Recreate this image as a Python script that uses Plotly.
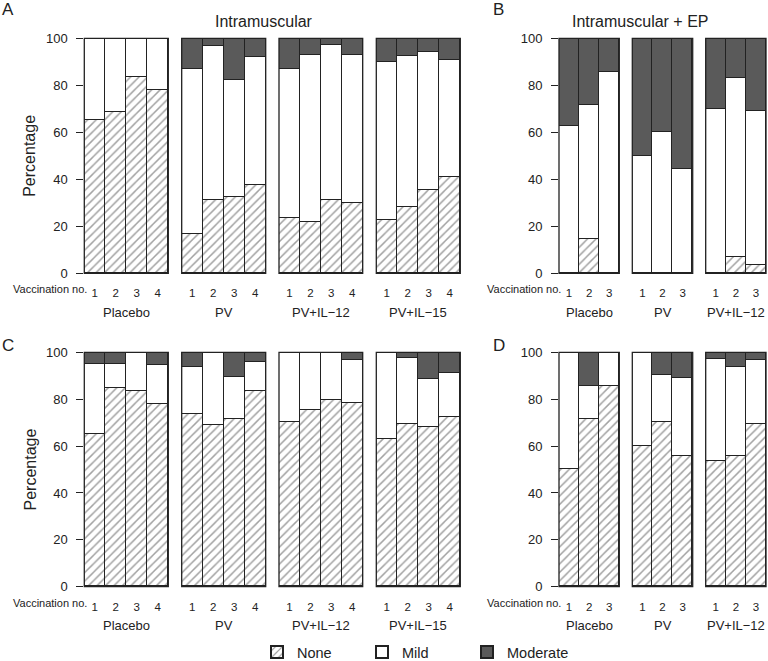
import plotly.graph_objects as go

# ---------------- data ----------------
groups_4 = ["Placebo", "PV", "PV+IL\u221212", "PV+IL\u221215"]
groups_3 = ["Placebo", "PV", "PV+IL\u221212"]
vacc_4 = ["1", "2", "3", "4"]
vacc_3 = ["1", "2", "3"]

# Panel A: Intramuscular (first severity grading)
a_none = [[65.2, 68.5, 83.4, 78.0], [16.6, 31.1, 32.2, 37.6], [23.4, 21.7, 31.2, 29.9], [22.7, 28.3, 35.4, 40.8]]
a_mild = [[34.8, 31.5, 16.6, 22.0], [70.2, 65.5, 50.1, 54.2], [63.4, 71.2, 65.7, 62.9], [67.3, 63.9, 58.8, 50.0]]
a_mod = [[0, 0, 0, 0], [13.2, 3.4, 17.7, 8.2], [13.2, 7.1, 3.1, 7.2], [10.0, 7.8, 5.8, 9.2]]

# Panel B: Intramuscular + EP
b_none = [[0, 14.3, 0], [0, 0, 0], [0, 6.9, 3.5]]
b_mild = [[62.5, 57.1, 85.7], [50.0, 60.0, 44.4], [70.0, 75.9, 65.5]]
b_mod = [[37.5, 28.6, 14.3], [50.0, 40.0, 55.6], [30.0, 17.2, 31.0]]

# Panel C: Intramuscular (second grading)
c_none = [[65.0, 84.5, 83.5, 78.0], [73.5, 69.0, 71.5, 83.5], [70.3, 75.4, 79.6, 78.1], [62.9, 69.4, 68.0, 72.2]]
c_mild = [[30.0, 10.5, 16.5, 16.5], [20.0, 31.0, 18.0, 12.4], [29.7, 24.6, 20.4, 18.4], [37.1, 28.2, 20.5, 18.8]]
c_mod = [[5.0, 5.0, 0, 5.5], [6.5, 0, 10.5, 4.1], [0, 0, 0, 3.5], [0, 2.4, 11.5, 9.0]]

# Panel D: Intramuscular + EP (second grading)
d_none = [[50.0, 71.4, 85.7], [60.0, 70.0, 55.6], [53.5, 55.5, 69.3]]
d_mild = [[50.0, 14.3, 14.3], [40.0, 20.0, 33.3], [43.4, 38.0, 27.3]]
d_mod = [[0, 14.3, 0], [0, 10.0, 11.1], [3.1, 6.5, 3.4]]

severity = ["None", "Mild", "Moderate"]
panel_titles = ["Intramuscular", "Intramuscular + EP"]
panel_letters = ["A", "B", "C", "D"]

# ---------------- layout geometry (pixels) ----------------
W, H = 768, 661
left_boxes = [(84.3, 168.3), (181.7, 265.7), (279.0, 362.7), (376.3, 460.3)]
right_boxes = [(559.0, 619.3), (632.3, 692.7), (705.7, 766.0)]
top_rows = (38.3, 273.3)
bot_rows = (352.3, 586.7)

def xd(px):
    return px / W

def yd(py):
    return 1 - py / H

panels = [
    dict(none=a_none, mild=a_mild, mod=a_mod, groups=groups_4, vacc=vacc_4, boxes=left_boxes, rows=top_rows),
    dict(none=b_none, mild=b_mild, mod=b_mod, groups=groups_3, vacc=vacc_3, boxes=right_boxes, rows=top_rows),
    dict(none=c_none, mild=c_mild, mod=c_mod, groups=groups_4, vacc=vacc_4, boxes=left_boxes, rows=bot_rows),
    dict(none=d_none, mild=d_mild, mod=d_mod, groups=groups_3, vacc=vacc_3, boxes=right_boxes, rows=bot_rows),
]

FONT = "Liberation Sans, Arial, sans-serif"
INK = "#222222"
fig = go.Figure()
layout = dict(
    width=W, height=H, margin=dict(l=0, r=0, t=0, b=0, autoexpand=False),
    paper_bgcolor="white", plot_bgcolor="white",
    barmode="stack", bargap=0,
    font=dict(family=FONT, color=INK, size=12),
)
shapes = []
annotations = []

styles = {
    "None": dict(color="white", line=dict(color=INK, width=1),
                 pattern=dict(shape="/", fgcolor="#444444", bgcolor="white", size=6, solidity=0.25)),
    "Mild": dict(color="white", line=dict(color=INK, width=1)),
    "Moderate": dict(color="#5a5a5a", line=dict(color=INK, width=1)),
}

xi = 0
for pi, p in enumerate(panels):
    yname = "y" if pi == 0 else f"y{pi + 1}"
    ykey = "yaxis" if pi == 0 else f"yaxis{pi + 1}"
    first_x = None
    for gi, gname in enumerate(p["groups"]):
        xi += 1
        xname = "x" if xi == 1 else f"x{xi}"
        xkey = "xaxis" if xi == 1 else f"xaxis{xi}"
        if first_x is None:
            first_x = xname
        vals = {"None": p["none"][gi], "Mild": p["mild"][gi], "Moderate": p["mod"][gi]}
        for s in severity:
            fig.add_trace(go.Bar(
                x=p["vacc"], y=vals[s], name=s, xaxis=xname, yaxis=yname,
                marker=styles[s], showlegend=(xi == 1), legendgroup=s,
                hoverinfo="skip",
            ))
        b0, b1 = p["boxes"][gi]
        layout[xkey] = dict(
            domain=[xd(b0), xd(b1)], anchor=yname, type="category",
            categoryorder="array", categoryarray=p["vacc"],
            range=[-0.5, len(p["vacc"]) - 0.5], automargin=False,
            showgrid=False, zeroline=False, showline=False,
            ticks="outside", ticklen=9, tickcolor="rgba(0,0,0,0)",
            tickfont=dict(size=11.5, family=FONT, color=INK),
            fixedrange=True,
        )
        shapes.append(dict(type="rect", xref=f"{xname} domain", yref=f"{yname} domain",
                           x0=0, x1=1, y0=0, y1=1, line=dict(color=INK, width=1.3),
                           fillcolor="rgba(0,0,0,0)", layer="above"))
        annotations.append(dict(text=gname, xref=f"{xname} domain", yref=f"{yname} domain",
                                x=0.5, y=0, yshift=-39, showarrow=False,
                                font=dict(size=13, family=FONT, color=INK), yanchor="middle"))
        if gi == 0:
            annotations.append(dict(text="Vaccination no.", xref=xname, yref=f"{yname} domain",
                                    x=0, y=0, xshift=-7, yshift=-16, xanchor="right", yanchor="middle",
                                    showarrow=False, borderpad=0,
                                    font=dict(size=11, family=FONT, color=INK)))
    r0, r1 = p["rows"]
    layout[ykey] = dict(
        domain=[yd(r1), yd(r0)], anchor=first_x, range=[0, 100], automargin=False,
        tickvals=[0, 20, 40, 60, 80, 100], ticks="outside", ticklen=7, tickcolor=INK,
        tickwidth=1, showgrid=False, zeroline=False, showline=False, ticklabelstandoff=6,
        tickfont=dict(size=13, family=FONT, color=INK), fixedrange=True,
    )

# Y titles
for rows in (top_rows, bot_rows):
    annotations.append(dict(text="Percentage", xref="paper", yref="paper",
                            x=xd(30), y=yd((rows[0] + rows[1]) / 2), textangle=-90,
                            showarrow=False, xanchor="center", yanchor="middle",
                            font=dict(size=16, family=FONT, color=INK)))

# Panel titles
annotations.append(dict(text=panel_titles[0], xref="paper", yref="paper", x=xd(264), y=yd(22),
                        showarrow=False, xanchor="center", yanchor="middle",
                        font=dict(size=16, family=FONT, color=INK)))
annotations.append(dict(text=panel_titles[1], xref="paper", yref="paper", x=xd(640), y=yd(22),
                        showarrow=False, xanchor="center", yanchor="middle",
                        font=dict(size=16, family=FONT, color=INK)))

# Panel letters
for letter, (lx, ly) in zip(panel_letters, [(8, 9), (498, 9), (8, 345), (499, 345)]):
    annotations.append(dict(text=letter, xref="paper", yref="paper", x=xd(lx), y=yd(ly),
                            showarrow=False, xanchor="center", yanchor="middle",
                            font=dict(size=17, family=FONT, color=INK)))

layout["shapes"] = shapes
layout["annotations"] = annotations
layout["legend"] = dict(orientation="h", x=xd(257), xanchor="left", y=yd(652), yanchor="middle",
                        font=dict(size=14.5, family=FONT, color=INK),
                        entrywidth=60, entrywidthmode="pixels", itemsizing="constant",
                        traceorder="normal", bgcolor="rgba(0,0,0,0)")
layout["showlegend"] = True
fig.update_layout(**layout)

fig.write_html("out.html", config={"displayModeBar": False},
               post_script="document.body.style.margin='0';")
